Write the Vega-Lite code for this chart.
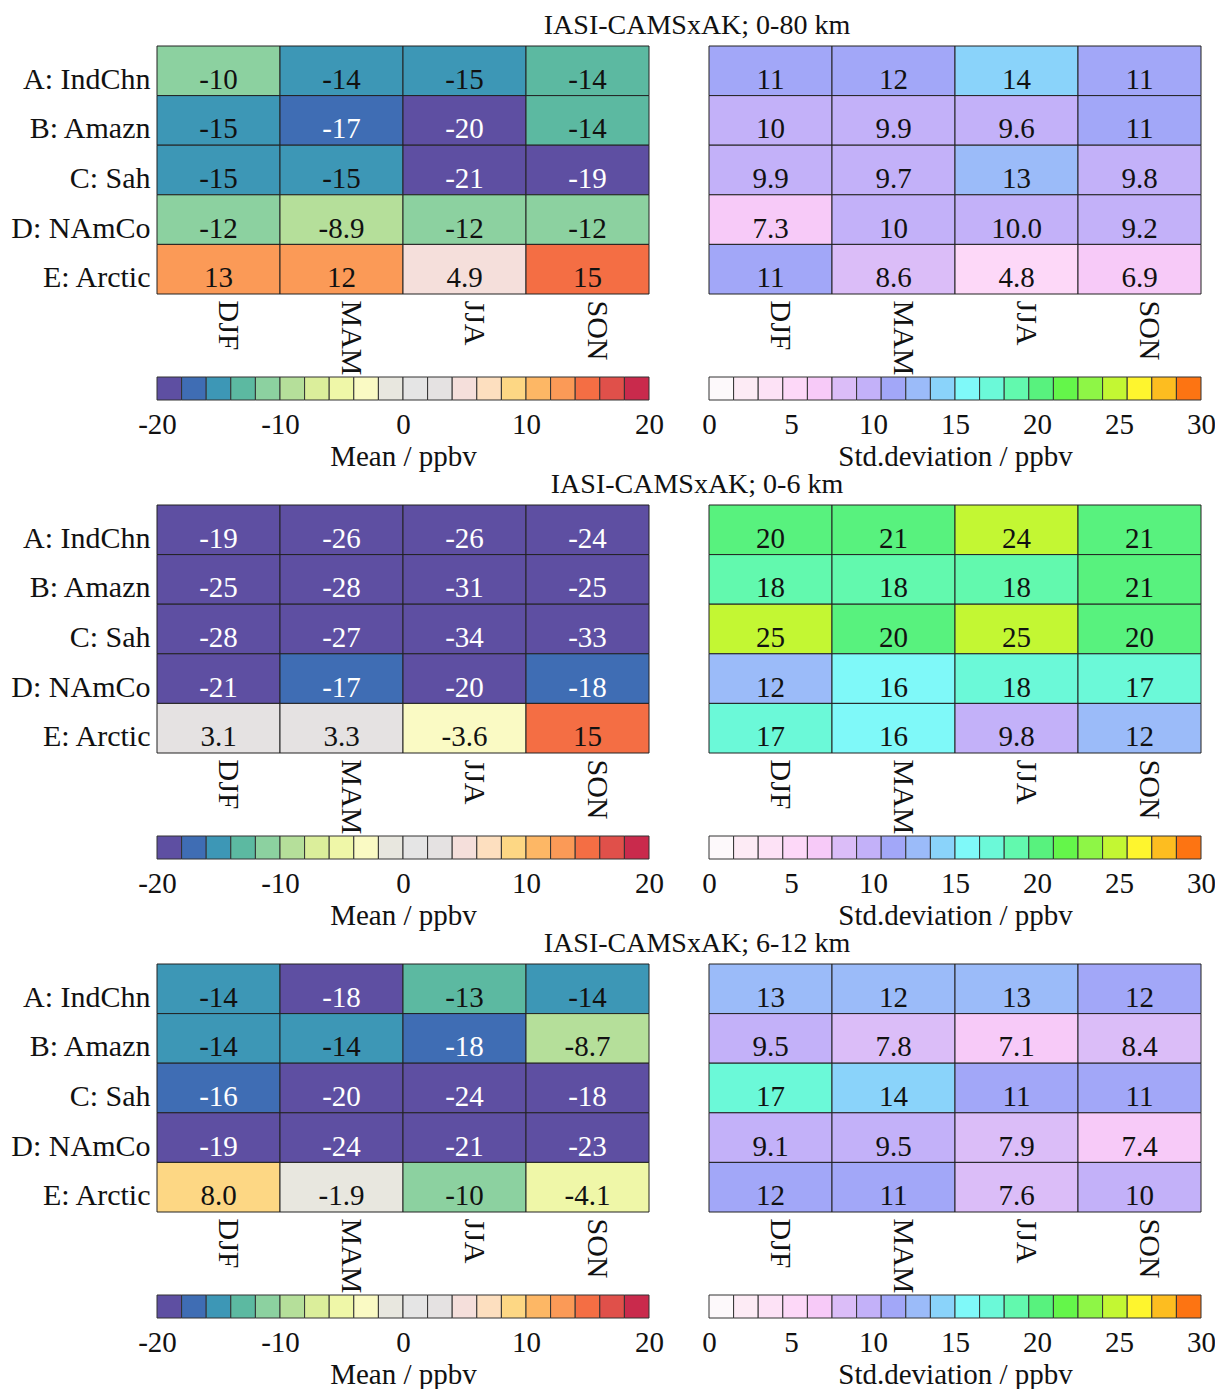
{
"$schema": "https://vega.github.io/schema/vega-lite/v6.json",
"padding": {"left": 10, "top": 11, "right": 10, "bottom": 10},
"config": {
  "font": "Liberation Serif",
  "view": {"stroke": null},
  "axis": {"labelFontSize": 30, "titleFontSize": 29, "titleFontWeight": "normal", "labelColor": "#111", "titleColor": "#111", "ticks": false, "domain": false, "grid": false, "labelFont": "Liberation Serif", "titleFont": "Liberation Serif"},
  "title": {"fontSize": 28, "fontWeight": "normal", "color": "#111", "font": "Liberation Serif"}
},
"datasets": {
  "mbins": [{"lo":-20,"hi":-18},{"lo":-18,"hi":-16},{"lo":-16,"hi":-14},{"lo":-14,"hi":-12},{"lo":-12,"hi":-10},{"lo":-10,"hi":-8},{"lo":-8,"hi":-6},{"lo":-6,"hi":-4},{"lo":-4,"hi":-2},{"lo":-2,"hi":0},{"lo":0,"hi":2},{"lo":2,"hi":4},{"lo":4,"hi":6},{"lo":6,"hi":8},{"lo":8,"hi":10},{"lo":10,"hi":12},{"lo":12,"hi":14},{"lo":14,"hi":16},{"lo":16,"hi":18},{"lo":18,"hi":20}],
  "sbins": [{"lo":0,"hi":1.5},{"lo":1.5,"hi":3},{"lo":3,"hi":4.5},{"lo":4.5,"hi":6},{"lo":6,"hi":7.5},{"lo":7.5,"hi":9},{"lo":9,"hi":10.5},{"lo":10.5,"hi":12},{"lo":12,"hi":13.5},{"lo":13.5,"hi":15},{"lo":15,"hi":16.5},{"lo":16.5,"hi":18},{"lo":18,"hi":19.5},{"lo":19.5,"hi":21},{"lo":21,"hi":22.5},{"lo":22.5,"hi":24},{"lo":24,"hi":25.5},{"lo":25.5,"hi":27},{"lo":27,"hi":28.5},{"lo":28.5,"hi":30}],
  "m1": [
    {"r":"A: IndChn","s":"DJF","v":-10.2,"t":"-10"},{"r":"A: IndChn","s":"MAM","v":-14.3,"t":"-14"},{"r":"A: IndChn","s":"JJA","v":-15,"t":"-15"},{"r":"A: IndChn","s":"SON","v":-13.8,"t":"-14"},
    {"r":"B: Amazn","s":"DJF","v":-15,"t":"-15"},{"r":"B: Amazn","s":"MAM","v":-17,"t":"-17"},{"r":"B: Amazn","s":"JJA","v":-20,"t":"-20"},{"r":"B: Amazn","s":"SON","v":-13.8,"t":"-14"},
    {"r":"C: Sah","s":"DJF","v":-15,"t":"-15"},{"r":"C: Sah","s":"MAM","v":-15,"t":"-15"},{"r":"C: Sah","s":"JJA","v":-21,"t":"-21"},{"r":"C: Sah","s":"SON","v":-19,"t":"-19"},
    {"r":"D: NAmCo","s":"DJF","v":-11.8,"t":"-12"},{"r":"D: NAmCo","s":"MAM","v":-8.9,"t":"-8.9"},{"r":"D: NAmCo","s":"JJA","v":-11.8,"t":"-12"},{"r":"D: NAmCo","s":"SON","v":-11.8,"t":"-12"},
    {"r":"E: Arctic","s":"DJF","v":13,"t":"13"},{"r":"E: Arctic","s":"MAM","v":12.2,"t":"12"},{"r":"E: Arctic","s":"JJA","v":4.9,"t":"4.9"},{"r":"E: Arctic","s":"SON","v":15,"t":"15"}
  ],
  "s1": [
    {"r":"A: IndChn","s":"DJF","v":11,"t":"11"},{"r":"A: IndChn","s":"MAM","v":11.8,"t":"12"},{"r":"A: IndChn","s":"JJA","v":14,"t":"14"},{"r":"A: IndChn","s":"SON","v":11,"t":"11"},
    {"r":"B: Amazn","s":"DJF","v":10.2,"t":"10"},{"r":"B: Amazn","s":"MAM","v":9.9,"t":"9.9"},{"r":"B: Amazn","s":"JJA","v":9.6,"t":"9.6"},{"r":"B: Amazn","s":"SON","v":11,"t":"11"},
    {"r":"C: Sah","s":"DJF","v":9.9,"t":"9.9"},{"r":"C: Sah","s":"MAM","v":9.7,"t":"9.7"},{"r":"C: Sah","s":"JJA","v":13,"t":"13"},{"r":"C: Sah","s":"SON","v":9.8,"t":"9.8"},
    {"r":"D: NAmCo","s":"DJF","v":7.3,"t":"7.3"},{"r":"D: NAmCo","s":"MAM","v":10.2,"t":"10"},{"r":"D: NAmCo","s":"JJA","v":9.96,"t":"10.0"},{"r":"D: NAmCo","s":"SON","v":9.2,"t":"9.2"},
    {"r":"E: Arctic","s":"DJF","v":11,"t":"11"},{"r":"E: Arctic","s":"MAM","v":8.6,"t":"8.6"},{"r":"E: Arctic","s":"JJA","v":4.8,"t":"4.8"},{"r":"E: Arctic","s":"SON","v":6.9,"t":"6.9"}
  ],
  "m2": [
    {"r":"A: IndChn","s":"DJF","v":-19,"t":"-19"},{"r":"A: IndChn","s":"MAM","v":-26,"t":"-26"},{"r":"A: IndChn","s":"JJA","v":-26,"t":"-26"},{"r":"A: IndChn","s":"SON","v":-24,"t":"-24"},
    {"r":"B: Amazn","s":"DJF","v":-25,"t":"-25"},{"r":"B: Amazn","s":"MAM","v":-28,"t":"-28"},{"r":"B: Amazn","s":"JJA","v":-31,"t":"-31"},{"r":"B: Amazn","s":"SON","v":-25,"t":"-25"},
    {"r":"C: Sah","s":"DJF","v":-28,"t":"-28"},{"r":"C: Sah","s":"MAM","v":-27,"t":"-27"},{"r":"C: Sah","s":"JJA","v":-34,"t":"-34"},{"r":"C: Sah","s":"SON","v":-33,"t":"-33"},
    {"r":"D: NAmCo","s":"DJF","v":-21,"t":"-21"},{"r":"D: NAmCo","s":"MAM","v":-17,"t":"-17"},{"r":"D: NAmCo","s":"JJA","v":-20,"t":"-20"},{"r":"D: NAmCo","s":"SON","v":-17.8,"t":"-18"},
    {"r":"E: Arctic","s":"DJF","v":3.1,"t":"3.1"},{"r":"E: Arctic","s":"MAM","v":3.3,"t":"3.3"},{"r":"E: Arctic","s":"JJA","v":-3.6,"t":"-3.6"},{"r":"E: Arctic","s":"SON","v":15,"t":"15"}
  ],
  "s2": [
    {"r":"A: IndChn","s":"DJF","v":20,"t":"20"},{"r":"A: IndChn","s":"MAM","v":20.8,"t":"21"},{"r":"A: IndChn","s":"JJA","v":24.2,"t":"24"},{"r":"A: IndChn","s":"SON","v":20.8,"t":"21"},
    {"r":"B: Amazn","s":"DJF","v":18.2,"t":"18"},{"r":"B: Amazn","s":"MAM","v":18.2,"t":"18"},{"r":"B: Amazn","s":"JJA","v":18.2,"t":"18"},{"r":"B: Amazn","s":"SON","v":20.8,"t":"21"},
    {"r":"C: Sah","s":"DJF","v":25,"t":"25"},{"r":"C: Sah","s":"MAM","v":20,"t":"20"},{"r":"C: Sah","s":"JJA","v":25,"t":"25"},{"r":"C: Sah","s":"SON","v":20,"t":"20"},
    {"r":"D: NAmCo","s":"DJF","v":12.2,"t":"12"},{"r":"D: NAmCo","s":"MAM","v":16,"t":"16"},{"r":"D: NAmCo","s":"JJA","v":17.8,"t":"18"},{"r":"D: NAmCo","s":"SON","v":17,"t":"17"},
    {"r":"E: Arctic","s":"DJF","v":17,"t":"17"},{"r":"E: Arctic","s":"MAM","v":16,"t":"16"},{"r":"E: Arctic","s":"JJA","v":9.8,"t":"9.8"},{"r":"E: Arctic","s":"SON","v":12.2,"t":"12"}
  ],
  "m3": [
    {"r":"A: IndChn","s":"DJF","v":-14.2,"t":"-14"},{"r":"A: IndChn","s":"MAM","v":-18.2,"t":"-18"},{"r":"A: IndChn","s":"JJA","v":-13,"t":"-13"},{"r":"A: IndChn","s":"SON","v":-14.2,"t":"-14"},
    {"r":"B: Amazn","s":"DJF","v":-14.2,"t":"-14"},{"r":"B: Amazn","s":"MAM","v":-14.2,"t":"-14"},{"r":"B: Amazn","s":"JJA","v":-17.8,"t":"-18"},{"r":"B: Amazn","s":"SON","v":-8.7,"t":"-8.7"},
    {"r":"C: Sah","s":"DJF","v":-16.2,"t":"-16"},{"r":"C: Sah","s":"MAM","v":-20,"t":"-20"},{"r":"C: Sah","s":"JJA","v":-24,"t":"-24"},{"r":"C: Sah","s":"SON","v":-18.2,"t":"-18"},
    {"r":"D: NAmCo","s":"DJF","v":-19,"t":"-19"},{"r":"D: NAmCo","s":"MAM","v":-24,"t":"-24"},{"r":"D: NAmCo","s":"JJA","v":-21,"t":"-21"},{"r":"D: NAmCo","s":"SON","v":-23,"t":"-23"},
    {"r":"E: Arctic","s":"DJF","v":8.0,"t":"8.0"},{"r":"E: Arctic","s":"MAM","v":-1.9,"t":"-1.9"},{"r":"E: Arctic","s":"JJA","v":-10.2,"t":"-10"},{"r":"E: Arctic","s":"SON","v":-4.1,"t":"-4.1"}
  ],
  "s3": [
    {"r":"A: IndChn","s":"DJF","v":13,"t":"13"},{"r":"A: IndChn","s":"MAM","v":12.2,"t":"12"},{"r":"A: IndChn","s":"JJA","v":13,"t":"13"},{"r":"A: IndChn","s":"SON","v":11.8,"t":"12"},
    {"r":"B: Amazn","s":"DJF","v":9.5,"t":"9.5"},{"r":"B: Amazn","s":"MAM","v":7.8,"t":"7.8"},{"r":"B: Amazn","s":"JJA","v":7.1,"t":"7.1"},{"r":"B: Amazn","s":"SON","v":8.4,"t":"8.4"},
    {"r":"C: Sah","s":"DJF","v":17,"t":"17"},{"r":"C: Sah","s":"MAM","v":14,"t":"14"},{"r":"C: Sah","s":"JJA","v":11,"t":"11"},{"r":"C: Sah","s":"SON","v":11,"t":"11"},
    {"r":"D: NAmCo","s":"DJF","v":9.1,"t":"9.1"},{"r":"D: NAmCo","s":"MAM","v":9.5,"t":"9.5"},{"r":"D: NAmCo","s":"JJA","v":7.9,"t":"7.9"},{"r":"D: NAmCo","s":"SON","v":7.4,"t":"7.4"},
    {"r":"E: Arctic","s":"DJF","v":11.8,"t":"12"},{"r":"E: Arctic","s":"MAM","v":11,"t":"11"},{"r":"E: Arctic","s":"JJA","v":7.6,"t":"7.6"},{"r":"E: Arctic","s":"SON","v":10.2,"t":"10"}
  ]
},
"columns": 2,
"bounds": "flush",
"spacing": {"row": 83, "column": 60},
"resolve": {"scale": {"color": "independent", "x": "independent", "y": "independent"}},
"concat": [
 {"width": 492, "height": 248, "data": {"name": "m1"},
  "title": {"text": "IASI-CAMSxAK; 0-80 km", "anchor": "middle", "offset": 6, "dx": 294},
  "encoding": {
    "x": {"field": "s", "type": "nominal", "scale": {"domain": ["DJF","MAM","JJA","SON"], "paddingInner": 0, "paddingOuter": 0}, "axis": {"title": null, "labelAngle": 90, "labelAlign": "left", "labelBaseline": "alphabetic", "labelPadding": 6}},
    "y": {"field": "r", "type": "nominal", "scale": {"domain": ["A: IndChn","B: Amazn","C: Sah","D: NAmCo","E: Arctic"], "paddingInner": 0, "paddingOuter": 0}, "axis": {"title": null, "labelPadding": 7, "labelOffset": 9}}
  },
  "layer": [
    {"mark": {"type": "rect", "stroke": "#222", "strokeWidth": 1}, "encoding": {"color": {"field": "v", "type": "quantitative", "legend": null, "scale": {"type": "threshold", "domain": [-18,-16,-14,-12,-10,-8,-6,-4,-2,0,2,4,6,8,10,12,14,16,18], "range": ["#5e4fa2","#3f6db4","#3d97b6","#5cb9a1","#8cd1a0","#b5df9a","#dbee9b","#eff7a8","#fafac4","#e8e7df","#e5e5e5","#e5e2e2","#f5dfdb","#fddfbf","#fdd784","#fdb765","#fb9a57","#f46e44","#e0504a","#c92a4c"]}}}},
    {"mark": {"type": "text", "fontSize": 29, "baseline": "middle", "dy": 9}, "encoding": {"text": {"field": "t", "type": "nominal"}, "color": {"condition": {"test": "datum.v < -16", "value": "white"}, "value": "#111"}}}
  ]},
 {"width": 492, "height": 248, "data": {"name": "s1"},
  "encoding": {
    "x": {"field": "s", "type": "nominal", "scale": {"domain": ["DJF","MAM","JJA","SON"], "paddingInner": 0, "paddingOuter": 0}, "axis": {"title": null, "labelAngle": 90, "labelAlign": "left", "labelBaseline": "alphabetic", "labelPadding": 6}},
    "y": {"field": "r", "type": "nominal", "scale": {"domain": ["A: IndChn","B: Amazn","C: Sah","D: NAmCo","E: Arctic"], "paddingInner": 0, "paddingOuter": 0}, "axis": null}
  },
  "layer": [
    {"mark": {"type": "rect", "stroke": "#222", "strokeWidth": 1}, "encoding": {"color": {"field": "v", "type": "quantitative", "legend": null, "scale": {"type": "threshold", "domain": [1.5,3,4.5,6,7.5,9,10.5,12,13.5,15,16.5,18,19.5,21,22.5,24,25.5,27,28.5], "range": ["#fdf9fb","#fdebf5","#fde2f6","#fdd8f8","#f7caf8","#dbbdf8","#c3b1f9","#a2a7f8","#9bbbf9","#8ad3fa","#7ff9f9","#6bf9d8","#62f9ae","#58f27e","#64f64a","#8ef646","#c3f733","#fef52e","#fdbd20","#fd7412"]}}}},
    {"mark": {"type": "text", "fontSize": 29, "baseline": "middle", "dy": 9, "color": "#111"}, "encoding": {"text": {"field": "t", "type": "nominal"}}}
  ]},
 {"width": 492, "height": 45, "data": {"name": "mbins"}, "mark": {"type": "rect", "stroke": "#333", "strokeWidth": 1},
  "encoding": {
    "x": {"field": "lo", "type": "quantitative", "scale": {"domain": [-20, 20], "nice": false, "zero": false}, "axis": {"values": [-20,-10,0,10,20], "labelExpr": "datum.value + ''", "labelFlush": false, "labelOverlap": false, "labelFontSize": 29, "title": "Mean / ppbv", "labelPadding": 10, "titlePadding": 3, "offset": -22}},
    "x2": {"field": "hi"},
    "y": {"datum": 0, "type": "quantitative", "scale": {"domain": [0, 45], "reverse": true, "nice": false, "zero": false}, "axis": null},
    "y2": {"datum": 23},
    "color": {"field": "lo", "type": "quantitative", "legend": null, "scale": {"type": "threshold", "domain": [-18,-16,-14,-12,-10,-8,-6,-4,-2,0,2,4,6,8,10,12,14,16,18], "range": ["#5e4fa2","#3f6db4","#3d97b6","#5cb9a1","#8cd1a0","#b5df9a","#dbee9b","#eff7a8","#fafac4","#e8e7df","#e5e5e5","#e5e2e2","#f5dfdb","#fddfbf","#fdd784","#fdb765","#fb9a57","#f46e44","#e0504a","#c92a4c"]}}
  }},
 {"width": 492, "height": 45, "data": {"name": "sbins"}, "mark": {"type": "rect", "stroke": "#333", "strokeWidth": 1},
  "encoding": {
    "x": {"field": "lo", "type": "quantitative", "scale": {"domain": [0, 30], "nice": false, "zero": false}, "axis": {"values": [0,5,10,15,20,25,30], "labelExpr": "datum.value + ''", "labelFlush": false, "labelOverlap": false, "labelFontSize": 29, "title": "Std.deviation / ppbv", "labelPadding": 10, "titlePadding": 3, "offset": -22}},
    "x2": {"field": "hi"},
    "y": {"datum": 0, "type": "quantitative", "scale": {"domain": [0, 45], "reverse": true, "nice": false, "zero": false}, "axis": null},
    "y2": {"datum": 23},
    "color": {"field": "lo", "type": "quantitative", "legend": null, "scale": {"type": "threshold", "domain": [1.5,3,4.5,6,7.5,9,10.5,12,13.5,15,16.5,18,19.5,21,22.5,24,25.5,27,28.5], "range": ["#fdf9fb","#fdebf5","#fde2f6","#fdd8f8","#f7caf8","#dbbdf8","#c3b1f9","#a2a7f8","#9bbbf9","#8ad3fa","#7ff9f9","#6bf9d8","#62f9ae","#58f27e","#64f64a","#8ef646","#c3f733","#fef52e","#fdbd20","#fd7412"]}}
  }},
 {"width": 492, "height": 248, "data": {"name": "m2"},
  "title": {"text": "IASI-CAMSxAK; 0-6 km", "anchor": "middle", "offset": 6, "dx": 294},
  "encoding": {
    "x": {"field": "s", "type": "nominal", "scale": {"domain": ["DJF","MAM","JJA","SON"], "paddingInner": 0, "paddingOuter": 0}, "axis": {"title": null, "labelAngle": 90, "labelAlign": "left", "labelBaseline": "alphabetic", "labelPadding": 6}},
    "y": {"field": "r", "type": "nominal", "scale": {"domain": ["A: IndChn","B: Amazn","C: Sah","D: NAmCo","E: Arctic"], "paddingInner": 0, "paddingOuter": 0}, "axis": {"title": null, "labelPadding": 7, "labelOffset": 9}}
  },
  "layer": [
    {"mark": {"type": "rect", "stroke": "#222", "strokeWidth": 1}, "encoding": {"color": {"field": "v", "type": "quantitative", "legend": null, "scale": {"type": "threshold", "domain": [-18,-16,-14,-12,-10,-8,-6,-4,-2,0,2,4,6,8,10,12,14,16,18], "range": ["#5e4fa2","#3f6db4","#3d97b6","#5cb9a1","#8cd1a0","#b5df9a","#dbee9b","#eff7a8","#fafac4","#e8e7df","#e5e5e5","#e5e2e2","#f5dfdb","#fddfbf","#fdd784","#fdb765","#fb9a57","#f46e44","#e0504a","#c92a4c"]}}}},
    {"mark": {"type": "text", "fontSize": 29, "baseline": "middle", "dy": 9}, "encoding": {"text": {"field": "t", "type": "nominal"}, "color": {"condition": {"test": "datum.v < -16", "value": "white"}, "value": "#111"}}}
  ]},
 {"width": 492, "height": 248, "data": {"name": "s2"},
  "encoding": {
    "x": {"field": "s", "type": "nominal", "scale": {"domain": ["DJF","MAM","JJA","SON"], "paddingInner": 0, "paddingOuter": 0}, "axis": {"title": null, "labelAngle": 90, "labelAlign": "left", "labelBaseline": "alphabetic", "labelPadding": 6}},
    "y": {"field": "r", "type": "nominal", "scale": {"domain": ["A: IndChn","B: Amazn","C: Sah","D: NAmCo","E: Arctic"], "paddingInner": 0, "paddingOuter": 0}, "axis": null}
  },
  "layer": [
    {"mark": {"type": "rect", "stroke": "#222", "strokeWidth": 1}, "encoding": {"color": {"field": "v", "type": "quantitative", "legend": null, "scale": {"type": "threshold", "domain": [1.5,3,4.5,6,7.5,9,10.5,12,13.5,15,16.5,18,19.5,21,22.5,24,25.5,27,28.5], "range": ["#fdf9fb","#fdebf5","#fde2f6","#fdd8f8","#f7caf8","#dbbdf8","#c3b1f9","#a2a7f8","#9bbbf9","#8ad3fa","#7ff9f9","#6bf9d8","#62f9ae","#58f27e","#64f64a","#8ef646","#c3f733","#fef52e","#fdbd20","#fd7412"]}}}},
    {"mark": {"type": "text", "fontSize": 29, "baseline": "middle", "dy": 9, "color": "#111"}, "encoding": {"text": {"field": "t", "type": "nominal"}}}
  ]},
 {"width": 492, "height": 45, "data": {"name": "mbins"}, "mark": {"type": "rect", "stroke": "#333", "strokeWidth": 1},
  "encoding": {
    "x": {"field": "lo", "type": "quantitative", "scale": {"domain": [-20, 20], "nice": false, "zero": false}, "axis": {"values": [-20,-10,0,10,20], "labelExpr": "datum.value + ''", "labelFlush": false, "labelOverlap": false, "labelFontSize": 29, "title": "Mean / ppbv", "labelPadding": 10, "titlePadding": 3, "offset": -22}},
    "x2": {"field": "hi"},
    "y": {"datum": 0, "type": "quantitative", "scale": {"domain": [0, 45], "reverse": true, "nice": false, "zero": false}, "axis": null},
    "y2": {"datum": 23},
    "color": {"field": "lo", "type": "quantitative", "legend": null, "scale": {"type": "threshold", "domain": [-18,-16,-14,-12,-10,-8,-6,-4,-2,0,2,4,6,8,10,12,14,16,18], "range": ["#5e4fa2","#3f6db4","#3d97b6","#5cb9a1","#8cd1a0","#b5df9a","#dbee9b","#eff7a8","#fafac4","#e8e7df","#e5e5e5","#e5e2e2","#f5dfdb","#fddfbf","#fdd784","#fdb765","#fb9a57","#f46e44","#e0504a","#c92a4c"]}}
  }},
 {"width": 492, "height": 45, "data": {"name": "sbins"}, "mark": {"type": "rect", "stroke": "#333", "strokeWidth": 1},
  "encoding": {
    "x": {"field": "lo", "type": "quantitative", "scale": {"domain": [0, 30], "nice": false, "zero": false}, "axis": {"values": [0,5,10,15,20,25,30], "labelExpr": "datum.value + ''", "labelFlush": false, "labelOverlap": false, "labelFontSize": 29, "title": "Std.deviation / ppbv", "labelPadding": 10, "titlePadding": 3, "offset": -22}},
    "x2": {"field": "hi"},
    "y": {"datum": 0, "type": "quantitative", "scale": {"domain": [0, 45], "reverse": true, "nice": false, "zero": false}, "axis": null},
    "y2": {"datum": 23},
    "color": {"field": "lo", "type": "quantitative", "legend": null, "scale": {"type": "threshold", "domain": [1.5,3,4.5,6,7.5,9,10.5,12,13.5,15,16.5,18,19.5,21,22.5,24,25.5,27,28.5], "range": ["#fdf9fb","#fdebf5","#fde2f6","#fdd8f8","#f7caf8","#dbbdf8","#c3b1f9","#a2a7f8","#9bbbf9","#8ad3fa","#7ff9f9","#6bf9d8","#62f9ae","#58f27e","#64f64a","#8ef646","#c3f733","#fef52e","#fdbd20","#fd7412"]}}
  }},
 {"width": 492, "height": 248, "data": {"name": "m3"},
  "title": {"text": "IASI-CAMSxAK; 6-12 km", "anchor": "middle", "offset": 6, "dx": 294},
  "encoding": {
    "x": {"field": "s", "type": "nominal", "scale": {"domain": ["DJF","MAM","JJA","SON"], "paddingInner": 0, "paddingOuter": 0}, "axis": {"title": null, "labelAngle": 90, "labelAlign": "left", "labelBaseline": "alphabetic", "labelPadding": 6}},
    "y": {"field": "r", "type": "nominal", "scale": {"domain": ["A: IndChn","B: Amazn","C: Sah","D: NAmCo","E: Arctic"], "paddingInner": 0, "paddingOuter": 0}, "axis": {"title": null, "labelPadding": 7, "labelOffset": 9}}
  },
  "layer": [
    {"mark": {"type": "rect", "stroke": "#222", "strokeWidth": 1}, "encoding": {"color": {"field": "v", "type": "quantitative", "legend": null, "scale": {"type": "threshold", "domain": [-18,-16,-14,-12,-10,-8,-6,-4,-2,0,2,4,6,8,10,12,14,16,18], "range": ["#5e4fa2","#3f6db4","#3d97b6","#5cb9a1","#8cd1a0","#b5df9a","#dbee9b","#eff7a8","#fafac4","#e8e7df","#e5e5e5","#e5e2e2","#f5dfdb","#fddfbf","#fdd784","#fdb765","#fb9a57","#f46e44","#e0504a","#c92a4c"]}}}},
    {"mark": {"type": "text", "fontSize": 29, "baseline": "middle", "dy": 9}, "encoding": {"text": {"field": "t", "type": "nominal"}, "color": {"condition": {"test": "datum.v < -16", "value": "white"}, "value": "#111"}}}
  ]},
 {"width": 492, "height": 248, "data": {"name": "s3"},
  "encoding": {
    "x": {"field": "s", "type": "nominal", "scale": {"domain": ["DJF","MAM","JJA","SON"], "paddingInner": 0, "paddingOuter": 0}, "axis": {"title": null, "labelAngle": 90, "labelAlign": "left", "labelBaseline": "alphabetic", "labelPadding": 6}},
    "y": {"field": "r", "type": "nominal", "scale": {"domain": ["A: IndChn","B: Amazn","C: Sah","D: NAmCo","E: Arctic"], "paddingInner": 0, "paddingOuter": 0}, "axis": null}
  },
  "layer": [
    {"mark": {"type": "rect", "stroke": "#222", "strokeWidth": 1}, "encoding": {"color": {"field": "v", "type": "quantitative", "legend": null, "scale": {"type": "threshold", "domain": [1.5,3,4.5,6,7.5,9,10.5,12,13.5,15,16.5,18,19.5,21,22.5,24,25.5,27,28.5], "range": ["#fdf9fb","#fdebf5","#fde2f6","#fdd8f8","#f7caf8","#dbbdf8","#c3b1f9","#a2a7f8","#9bbbf9","#8ad3fa","#7ff9f9","#6bf9d8","#62f9ae","#58f27e","#64f64a","#8ef646","#c3f733","#fef52e","#fdbd20","#fd7412"]}}}},
    {"mark": {"type": "text", "fontSize": 29, "baseline": "middle", "dy": 9, "color": "#111"}, "encoding": {"text": {"field": "t", "type": "nominal"}}}
  ]},
 {"width": 492, "height": 45, "data": {"name": "mbins"}, "mark": {"type": "rect", "stroke": "#333", "strokeWidth": 1},
  "encoding": {
    "x": {"field": "lo", "type": "quantitative", "scale": {"domain": [-20, 20], "nice": false, "zero": false}, "axis": {"values": [-20,-10,0,10,20], "labelExpr": "datum.value + ''", "labelFlush": false, "labelOverlap": false, "labelFontSize": 29, "title": "Mean / ppbv", "labelPadding": 10, "titlePadding": 3, "offset": -22}},
    "x2": {"field": "hi"},
    "y": {"datum": 0, "type": "quantitative", "scale": {"domain": [0, 45], "reverse": true, "nice": false, "zero": false}, "axis": null},
    "y2": {"datum": 23},
    "color": {"field": "lo", "type": "quantitative", "legend": null, "scale": {"type": "threshold", "domain": [-18,-16,-14,-12,-10,-8,-6,-4,-2,0,2,4,6,8,10,12,14,16,18], "range": ["#5e4fa2","#3f6db4","#3d97b6","#5cb9a1","#8cd1a0","#b5df9a","#dbee9b","#eff7a8","#fafac4","#e8e7df","#e5e5e5","#e5e2e2","#f5dfdb","#fddfbf","#fdd784","#fdb765","#fb9a57","#f46e44","#e0504a","#c92a4c"]}}
  }},
 {"width": 492, "height": 45, "data": {"name": "sbins"}, "mark": {"type": "rect", "stroke": "#333", "strokeWidth": 1},
  "encoding": {
    "x": {"field": "lo", "type": "quantitative", "scale": {"domain": [0, 30], "nice": false, "zero": false}, "axis": {"values": [0,5,10,15,20,25,30], "labelExpr": "datum.value + ''", "labelFlush": false, "labelOverlap": false, "labelFontSize": 29, "title": "Std.deviation / ppbv", "labelPadding": 10, "titlePadding": 3, "offset": -22}},
    "x2": {"field": "hi"},
    "y": {"datum": 0, "type": "quantitative", "scale": {"domain": [0, 45], "reverse": true, "nice": false, "zero": false}, "axis": null},
    "y2": {"datum": 23},
    "color": {"field": "lo", "type": "quantitative", "legend": null, "scale": {"type": "threshold", "domain": [1.5,3,4.5,6,7.5,9,10.5,12,13.5,15,16.5,18,19.5,21,22.5,24,25.5,27,28.5], "range": ["#fdf9fb","#fdebf5","#fde2f6","#fdd8f8","#f7caf8","#dbbdf8","#c3b1f9","#a2a7f8","#9bbbf9","#8ad3fa","#7ff9f9","#6bf9d8","#62f9ae","#58f27e","#64f64a","#8ef646","#c3f733","#fef52e","#fdbd20","#fd7412"]}}
  }}
]
}
